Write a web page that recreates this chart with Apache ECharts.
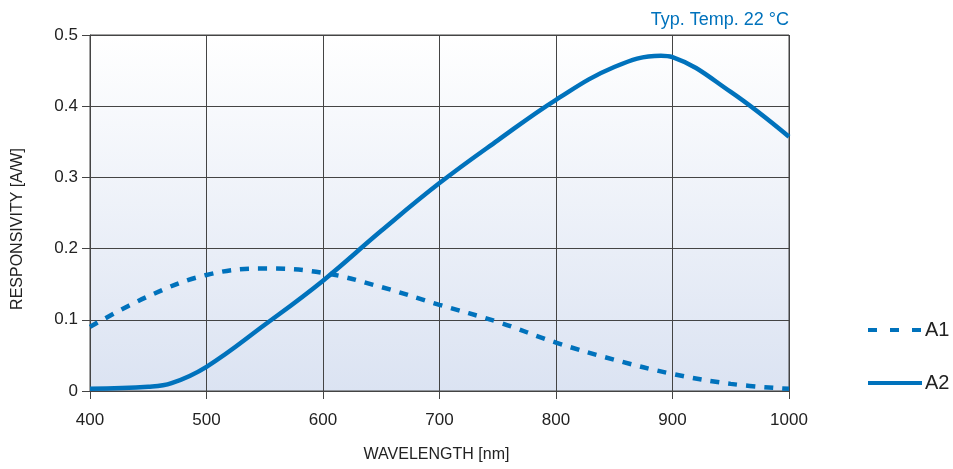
<!DOCTYPE html>
<html><head><meta charset="utf-8">
<script src="https://cdn.jsdelivr.net/npm/echarts@6/dist/echarts.min.js"></script>
<style>html,body{margin:0;padding:0;background:#fff}#c{width:953px;height:469px}</style>
</head><body><div id="c"></div>
<script>
const wavelengths = [400, 450, 470, 500, 550, 600, 650, 700, 750, 800, 850, 890, 900, 950, 1000];
const a2Values = [0.003, 0.006, 0.011, 0.034, 0.093, 0.155, 0.225, 0.292, 0.352, 0.409, 0.455, 0.471, 0.469, 0.42, 0.357];
const a1Wavelengths = [400, 450, 500, 550, 600, 650, 700, 750, 800, 850, 900, 950, 1000];
const a1Values = [0.09, 0.133, 0.163, 0.172, 0.166, 0.146, 0.121, 0.097, 0.068, 0.044, 0.024, 0.01, 0.003];
const xTicks = [400, 500, 600, 700, 800, 900, 1000];
const yTicks = [0, 0.1, 0.2, 0.3, 0.4, 0.5];
const seriesNames = ['A1', 'A2'];
const noteText = 'Typ. Temp. 22 °C';

const blue = '#0072bc';
const font = 'Liberation Sans, Arial, sans-serif';
const chart = echarts.init(document.getElementById('c'));
chart.setOption({
  animation: false,
  textStyle: {fontFamily: font},
  grid: {left: 90, right: 164, top: 35, bottom: 78, show: true, borderColor: '#444', borderWidth: 1,
    backgroundColor: new echarts.graphic.LinearGradient(0, 0, 0, 1, [{offset: 0, color: '#ffffff'}, {offset: 1, color: '#dbe3f2'}])},
  title: {text: noteText, right: 953 - 794, top: 6, textStyle: {color: blue, fontSize: 18, fontWeight: 'normal', fontFamily: font}},
  legend: {orient: 'vertical', left: 866, top: 320, padding: 0, itemGap: 33, itemWidth: 54, itemHeight: 20,
    itemStyle: {opacity: 0},
    data: [
      {name: seriesNames[0], lineStyle: {type: [9, 13], width: 4}},
      {name: seriesNames[1], lineStyle: {width: 4}}
    ],
    textStyle: {fontSize: 20, color: '#222', padding: [0, 0, 0, -2], fontFamily: font}},
  xAxis: {type: 'value', min: xTicks[0], max: xTicks[xTicks.length - 1], interval: 100,
    name: 'WAVELENGTH [nm]', nameLocation: 'middle', nameGap: 56, nameTextStyle: {fontSize: 16, color: '#222', padding: [0, 6, 0, 0]},
    axisLine: {lineStyle: {color: '#444'}}, axisTick: {show: true, length: 8, lineStyle: {color: '#444'}},
    axisLabel: {fontSize: 17, color: '#222', margin: 21, formatter: v => String(v)},
    splitLine: {show: true, lineStyle: {color: '#444', width: 1}}},
  yAxis: {type: 'value', min: 0, max: 0.5, interval: 0.1,
    name: 'RESPONSIVITY [A/W]', nameLocation: 'middle', nameGap: 64, nameRotate: 90,
    nameTextStyle: {fontSize: 16, color: '#222', padding: [0, 32, 0, 0]},
    axisLine: {show: true, lineStyle: {color: '#444'}}, axisTick: {show: true, length: 8, lineStyle: {color: '#444'}},
    axisLabel: {fontSize: 17, color: '#222', margin: 12, formatter: v => v === 0 ? '0' : v.toFixed(1)},
    splitLine: {show: true, lineStyle: {color: '#444', width: 1}}},
  series: [
    {name: seriesNames[0], type: 'line', smooth: 0.4, symbol: 'none', clip: false,
      data: a1Wavelengths.map((x, i) => [x, a1Values[i]]),
      lineStyle: {color: blue, width: 4.5, type: [9, 9]}, itemStyle: {color: blue}},
    {name: seriesNames[1], type: 'line', smooth: 0.4, symbol: 'none', clip: false,
      data: wavelengths.map((x, i) => [x, a2Values[i]]),
      lineStyle: {color: blue, width: 4.5}, itemStyle: {color: blue}}
  ]
});
</script></body></html>
